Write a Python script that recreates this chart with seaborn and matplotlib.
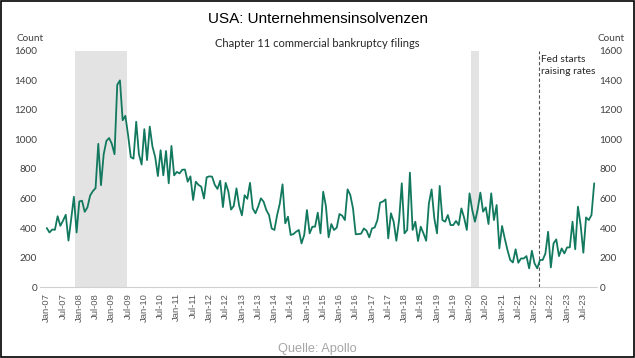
import numpy as np
import pandas as pd
import matplotlib
matplotlib.use("Agg")
import matplotlib.pyplot as plt
import seaborn as sns
from matplotlib.patches import Rectangle

# monthly chapter 11 commercial filings, Jan-07 onwards
filings = [
    400, 370, 390, 388, 480, 415, 450, 490, 315, 460, 612, 370,
    580, 585, 510, 540, 620, 650, 670, 970, 690, 900, 990, 1010,
    970, 900, 1370, 1400, 1130, 1160, 1030, 880, 870, 1120, 900, 830,
    1070, 860, 1087, 951, 882, 752, 927, 757, 922, 703, 956, 757,
    780, 770, 795, 796, 714, 750, 590, 714, 692, 680, 600, 744,
    750, 748, 692, 665, 720, 542, 706, 648, 525, 550, 669, 550,
    486, 622, 598, 706, 533, 500, 545, 601, 579, 522, 488, 397,
    387, 488, 567, 696, 432, 477, 353, 359, 375, 387, 296, 353,
    522, 364, 409, 409, 504, 364, 646, 549, 337, 427, 387, 403,
    495, 484, 454, 662, 624, 533, 358, 359, 362, 397, 382, 337,
    397, 404, 454, 572, 579, 594, 330, 500, 443, 314, 454, 703,
    364, 387, 775, 387, 443, 312, 409, 364, 314, 567, 662, 466,
    364, 685, 454, 443, 488, 420, 420, 448, 420, 533, 470, 387,
    635, 522, 443, 526, 640, 511, 540, 427, 635, 454, 556, 262,
    414, 329, 251, 184, 167, 256, 165, 194, 194, 210, 127, 246,
    160, 127, 184, 184, 228, 375, 133, 296, 323, 210, 262, 228,
    269, 269, 443, 256, 545, 420, 233, 472, 454, 488, 703,
]
months = pd.date_range("2007-01-01", periods=len(filings), freq="MS")
recessions = [("2007-12", "2009-06"), ("2020-02", "2020-04")]
fed_hike = "2022-03"
yticks = [0, 200, 400, 600, 800, 1000, 1200, 1400, 1600]

df = pd.DataFrame({"idx": np.arange(len(filings)), "filings": filings})


def month_pos(s):
    return int(np.where(months == pd.Timestamp(s))[0][0])


sns.set_style("white")
plt.rcParams["font.family"] = ["Lato", "DejaVu Sans"]

fig = plt.figure(figsize=(6.35, 3.58), dpi=100)
ax = fig.add_axes([0.063, 0.198, 0.877, 0.66])

# recession shading
for start, end in recessions:
    ax.axvspan(month_pos(start) - 0.5, month_pos(end) + 0.5, color="#e3e3e3", lw=0, zorder=0)

sns.lineplot(data=df, x="idx", y="filings", ax=ax, color="#12795f", linewidth=1.3, zorder=3)

# fed line
fx = month_pos(fed_hike) - 0.5
ax.axvline(fx, color="#555555", lw=0.8, ls=(0, (3, 2)), zorder=2)
ax.text(fx + 1.0, 1575, "Fed starts\nraising rates", fontsize=7.4, va="top", ha="left",
        color="#262626", linespacing=1.5)

ax.set_xlim(-2.5, 203)
ax.set_ylim(0, 1600)
ax.set_xlabel("")
ax.set_ylabel("")

tick_idx = list(range(0, len(filings), 6))
ax.set_xticks(tick_idx)
ax.set_xticklabels([months[i].strftime("%b-%y") for i in tick_idx], rotation=90,
                   fontsize=6.8, color="#595959", family="Liberation Sans")
ax.set_yticks(yticks)
ax.set_yticklabels([str(v) for v in yticks], fontsize=7.2, color="#404040")
ax.tick_params(axis="y", length=0, pad=2, labelright=True)
ax.tick_params(axis="x", length=2.5, width=0.6, color="#d0d0d0", pad=2)

for s in ["top", "left", "right"]:
    ax.spines[s].set_visible(False)
ax.spines["bottom"].set_color("#d0d0d0")
ax.spines["bottom"].set_linewidth(0.8)
ax.spines["bottom"].set_linestyle((0, (1, 1)))

# texts
fig.text(0.5, 0.948, "USA: Unternehmensinsolvenzen", ha="center", va="center",
         fontsize=11, family="Liberation Sans", color="#000000")
fig.text(0.5, 0.878, "Chapter 11 commercial bankruptcy filings", ha="center", va="center",
         fontsize=8, color="#262626")
fig.text(0.047, 0.893, "Count", ha="center", va="center", fontsize=7.2, color="#404040")
fig.text(0.962, 0.893, "Count", ha="center", va="center", fontsize=7.2, color="#404040")
fig.text(0.5, 0.025, "Quelle: Apollo", ha="center", va="center", fontsize=9.2,
         family="Liberation Sans", color="#a6a6a6")

# frame round the picture
fig.patches.append(Rectangle((0.001, 0.002), 0.997, 0.995, transform=fig.transFigure,
                             fill=False, edgecolor="black", linewidth=1.2))

fig.savefig("out.png", dpi=100)
